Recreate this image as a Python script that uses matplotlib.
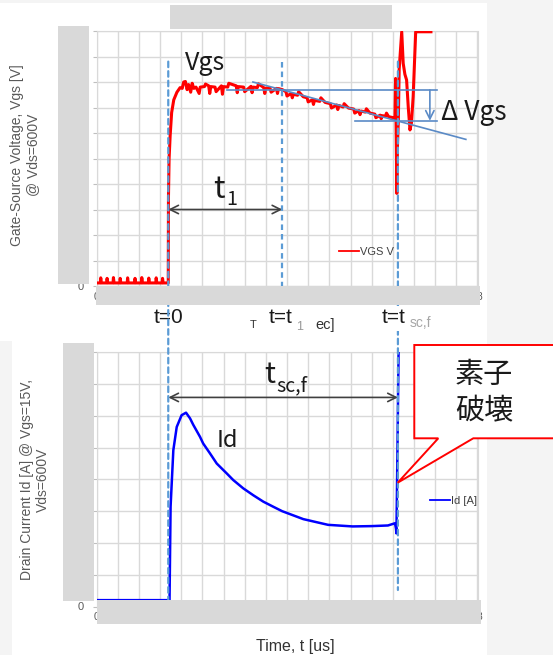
import matplotlib.pyplot as plt
from matplotlib.patches import Rectangle, Polygon, ConnectionPatch
from matplotlib.lines import Line2D

W, H = 553, 655

# time axis in grid divisions (18 divisions), values in grid divisions
vgs_t = [0.00, 0.18, 0.20, 0.23, 0.48, 0.50, 0.53, 0.78, 0.80, 0.83, 1.10, 1.12, 1.15,
         1.45, 1.47, 1.50, 1.80, 1.82, 1.85, 2.12, 2.14, 2.17, 2.45, 2.47, 2.50,
         2.80, 2.82, 2.85, 3.10, 3.12, 3.15, 3.38,
         3.39, 3.40, 3.43, 3.48, 3.55, 3.65, 3.80, 3.95, 4.05, 4.12, 4.20, 4.28, 4.35,
         4.45, 4.52, 4.60, 4.70, 4.85, 4.90, 5.10, 5.15, 5.30, 5.35, 5.40, 5.60, 5.65,
         5.90, 5.95, 6.00, 6.20, 6.25, 6.60, 6.65, 6.70, 6.95, 7.00, 7.30, 7.35, 7.40,
         7.60, 7.65, 7.90, 7.95, 8.00, 8.20, 8.25, 8.50, 8.55, 8.60, 8.78,
         8.95, 9.00, 9.20, 9.25, 9.30, 9.50, 9.55, 9.77, 9.95, 10.00, 10.20, 10.25,
         10.30, 10.55, 10.60, 10.80, 11.05, 11.10, 11.35, 11.40, 11.45, 11.65, 11.70,
         11.90, 12.15, 12.20, 12.40, 12.45, 12.50, 12.70, 12.75, 12.92, 13.15, 13.20,
         13.40, 13.45, 13.50, 13.65, 13.70, 13.80, 14.02, 14.10,
         14.13, 14.16, 14.19, 14.22, 14.26, 14.30, 14.42, 14.49, 14.57, 14.65, 14.73,
         14.81, 14.88, 14.96, 15.08, 15.80]
vgs_v = [0.12, 0.12, 0.32, 0.12, 0.12, 0.30, 0.12, 0.12, 0.33, 0.12, 0.12, 0.30, 0.12,
         0.12, 0.32, 0.12, 0.12, 0.30, 0.12, 0.12, 0.33, 0.12, 0.12, 0.31, 0.12,
         0.12, 0.32, 0.12, 0.12, 0.30, 0.12, 0.12,
         0.12, 3.50, 5.00, 5.90, 6.80, 7.30, 7.60, 7.78, 7.75, 8.00, 8.02, 7.70, 7.90,
         7.60, 7.95, 7.75, 7.80, 7.55, 7.80, 7.82, 7.92, 7.85, 7.55, 7.82, 7.80, 7.62,
         7.85, 7.52, 7.82, 7.80, 7.95, 7.85, 7.58, 7.82, 7.80, 7.62, 7.83, 7.58, 7.80,
         7.78, 7.93, 7.78, 7.55, 7.76, 7.75, 7.60, 7.75, 7.55, 7.74, 7.70,
         7.62, 7.45, 7.55, 7.38, 7.52, 7.48, 7.62, 7.42, 7.38, 7.22, 7.30, 7.12,
         7.28, 7.24, 7.38, 7.20, 7.15, 6.98, 7.10, 6.92, 7.08, 7.02, 7.15,
         6.98, 6.94, 6.78, 6.88, 6.72, 6.86, 6.82, 6.95, 6.78, 6.74, 6.60,
         6.70, 6.56, 6.68, 6.66, 6.78, 6.64, 6.60, 6.58,
         8.14, 6.00, 3.63, 5.50, 6.50, 8.50, 9.97, 8.73, 8.30, 8.08, 7.00,
         6.12, 6.40, 7.42, 9.97, 9.97]

id_t = [0.00, 3.45, 3.50, 3.63, 3.79, 4.02, 4.23, 4.42, 4.57, 4.89, 5.04, 5.36, 5.68,
        6.15, 6.46, 6.93, 7.41, 7.88, 8.35, 8.77, 9.77, 10.94, 12.10, 13.00, 13.77,
        14.10, 14.15, 14.17, 14.22, 14.27]
id_v = [0.20, 0.20, 3.14, 4.92, 5.65, 6.02, 6.10, 5.92, 5.72, 5.34, 5.13, 4.82, 4.50,
        4.19, 3.98, 3.72, 3.50, 3.30, 3.14, 3.00, 2.75, 2.57, 2.52, 2.53, 2.55,
        2.62, 2.45, 2.30, 5.00, 8.00]

t_zero, t_one, t_scf = 3.39, 8.78, 14.24
marker_top = 8.8
arrow1_y, arrow2_y = 3.0, 6.58
dv_hi, dv_lo = 7.69, 6.48
slope_x, slope_y = [7.39, 17.45], [8.0, 5.75]

x_ticks = list(range(0, 19))
vgs_ticks = list(range(0, 11))
id_ticks = list(range(0, 9))

plt.rcParams['font.family'] = ['Liberation Sans', 'DejaVu Sans']
jp = ['Noto Sans CJK JP', 'DejaVu Sans']

fig = plt.figure(figsize=(W / 100, H / 100), dpi=100)
fig.patch.set_facecolor('white')


def fx(x):
    return x / W


def fy(y):
    return 1 - y / H


def ftext(x, y, s, **kw):
    return fig.text(fx(x), fy(y), s, **kw)


def frect(x0, y0, x1, y1, color, z):
    fig.patches.append(Rectangle((fx(x0), fy(y1)), (x1 - x0) / W, (y1 - y0) / H,
                                 transform=fig.transFigure, facecolor=color,
                                 edgecolor='none', zorder=z))


ax1 = fig.add_axes([fx(96.5), fy(286), (477.5 - 96.5) / W, (286 - 31) / H])
ax2 = fig.add_axes([fx(96.5), fy(606.5), (477.5 - 96.5) / W, (606.5 - 352.3) / H])


def style(ax, yticks):
    ax.set_xlim(0, 18)
    ax.set_ylim(yticks[0], yticks[-1])
    ax.set_xticks(x_ticks)
    ax.set_yticks(yticks)
    ax.grid(True, color='#d9d9d9', lw=1.0)
    ax.set_axisbelow(True)
    for s in ax.spines.values():
        s.set_color('#d9d9d9')
    ax.tick_params(colors='#595959', labelsize=8, length=3, width=0.8, pad=6)
    ax.tick_params(axis='y', color='#bfbfbf')
    ax.tick_params(axis='x', length=0, pad=4, labelsize=7.5)


style(ax1, vgs_ticks)
style(ax2, id_ticks)

# traces
ax1.plot(vgs_t, vgs_v, color='#ff0000', lw=2.2, zorder=3)
ax2.plot(id_t, id_v, color='#0000ff', lw=1.8, zorder=3)

# legends
ax1.legend([Line2D([], [], color='#ff0000', lw=1.3)], ['VGS V'], loc='center left',
           bbox_to_anchor=(0.636, 0.1345), frameon=False, fontsize=8, handlelength=1.8,
           handletextpad=0.1, borderpad=0, borderaxespad=0, labelcolor='#404040')
ax2.legend([Line2D([], [], color='#0000ff', lw=1.3)], ['Id [A]'], loc='center left',
           bbox_to_anchor=(0.875, 0.415), frameon=False, fontsize=8, handlelength=1.8,
           handletextpad=0.1, borderpad=0, borderaxespad=0, labelcolor='#404040')

# delta Vgs construction
bl = '#5a8ac6'
ax1.plot([6.15, 16.07], [dv_hi, dv_hi], color=bl, lw=1.2, zorder=4)
ax1.plot(slope_x, slope_y, color=bl, lw=1.2, zorder=4)
ax1.plot([12.21, 16.07], [dv_lo, dv_lo], color=bl, lw=1.2, zorder=4)
ax1.annotate('', xy=(15.75, dv_lo), xytext=(15.75, dv_hi),
             arrowprops=dict(arrowstyle='->,head_length=0.6,head_width=0.3', color=bl,
                             lw=1.2, shrinkA=0, shrinkB=0))

# double arrows
ak = dict(arrowstyle='<->,head_length=0.6,head_width=0.3', color='#404040', lw=1.2,
          shrinkA=0, shrinkB=0)
ax1.annotate('', xy=(t_one, arrow1_y), xytext=(t_zero, arrow1_y), arrowprops=ak)
ax2.annotate('', xy=(t_scf, arrow2_y), xytext=(t_zero, arrow2_y), arrowprops=ak)

# dashed time markers
dk = dict(color='#5b9bd5', lw=1.6, linestyle=(0, (2.5, 1.8)), zorder=5)
ax1.plot([t_one, t_one], [marker_top, 0], **dk)
for t, bottom in [(t_zero, 0.2), (t_scf, 0.52)]:
    cp = ConnectionPatch(xyA=(t, marker_top), coordsA=ax1.transData,
                         xyB=(t, bottom), coordsB=ax2.transData,
                         arrowstyle='-', shrinkA=0, shrinkB=0, **dk)
    fig.add_artist(cp)

# background panels and redaction boxes
frect(0, 0, W, 3.3, '#f4f4f4', -5)
frect(487, 0, W, H, '#f4f4f4', -5)
frect(0, 341, 12, H, '#f4f4f4', -5)
gr = '#d9d9d9'
frect(170, 5, 391.7, 29.3, gr, 10)
frect(58.3, 26, 89, 284.3, gr, 10)
frect(96, 286, 480, 305, gr, 10)
frect(63.3, 343.3, 94, 601, gr, 10)
frect(97, 600, 480.8, 624.3, gr, 10)

# annotation texts
dark = '#1a1a1a'
ftext(185, 70, 'Vgs', fontsize=18, family=jp, color=dark, va='baseline')
ftext(440.7, 120, 'Δ Vgs', fontsize=19, family=jp, color=dark, va='baseline')
ftext(213.3, 198.3, 't', fontsize=22, family=jp, color=dark, va='baseline')
ftext(226.7, 205, '1', fontsize=14, family=jp, color=dark, va='baseline')
ftext(216.7, 446.7, 'Id', fontsize=17, family=jp, color=dark, va='baseline')
ftext(264.6, 383, 't', fontsize=21, family=jp, color=dark, va='baseline')
ftext(276.7, 391.7, 'sc,f', fontsize=14, family=jp, color=dark, va='baseline')

# labels between charts
ftext(168, 323.3, 't=0', fontsize=15, color=dark, ha='center', va='baseline', zorder=4)
ftext(253, 328.5, 'T', fontsize=8, color='#333333', ha='center', va='baseline')
ftext(268.3, 323.3, 't=t', fontsize=15, color=dark, va='baseline')
ftext(296, 330, '1', fontsize=9, color='#999999', va='baseline')
ftext(315, 329, 'ec]', fontsize=10.5, color='#333333', va='baseline')
frect(378, 306, 437, 331, 'white', 6)
ftext(381.7, 323.3, 't=t', fontsize=15, color=dark, va='baseline', zorder=7)
ftext(410, 327, 'sc,f', fontsize=10, color='#a6a6a6', va='baseline', zorder=7)

# callout
pts = [(414.3, 345), (560, 345), (560, 438.3), (473.3, 438.3), (397.7, 482.7),
       (438.3, 438.3), (414.3, 438.3)]
fig.patches.append(Polygon([(fx(x), fy(y)) for x, y in pts], closed=True,
                           transform=fig.transFigure, facecolor='white',
                           edgecolor='#ff0000', lw=1.4, zorder=8))
ftext(484, 375, '素子', fontsize=21, family=jp, color=dark, ha='center', va='center', zorder=9)
ftext(484, 411.5, '破壊', fontsize=21, family=jp, color=dark, ha='center', va='center', zorder=9)

# axis titles
ftext(25, 155, 'Gate-Source Voltage, Vgs [V]\n@ Vds=600V', fontsize=10, color='#595959',
      rotation=90, ha='center', va='center', multialignment='center')
ftext(35, 480, 'Drain Current Id [A] @ Vgs=15V,\nVds=600V', fontsize=10, color='#595959',
      rotation=90, ha='center', va='center', multialignment='center')
ftext(295, 646, 'Time, t [us]', fontsize=11.5, color='#333333', ha='center', va='center')

fig.savefig('out.png', dpi=100)
